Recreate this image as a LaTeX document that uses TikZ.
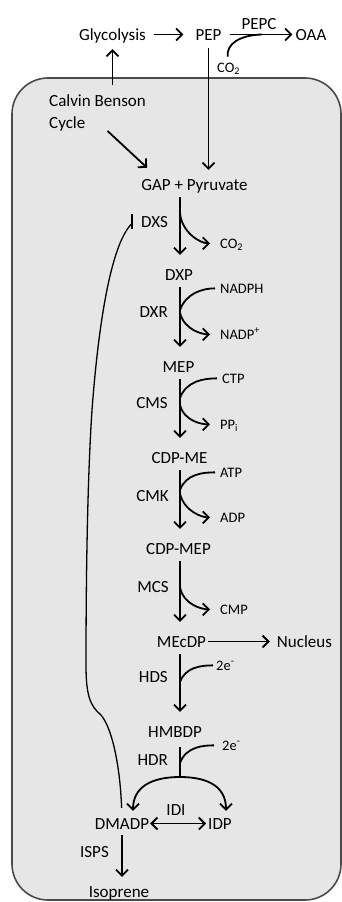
\documentclass[tikz,border=0pt]{standalone}
\usepackage{fontspec}
\setmainfont{Carlito}
\usetikzlibrary{arrows.meta}
\definecolor{cellgray}{HTML}{E6E6E6}
\definecolor{cellline}{HTML}{4A4A4A}
\begin{document}
\begin{tikzpicture}[x=1pt,y=-1pt,
  lbl/.style={inner sep=0pt, font=\fontsize{17}{20}\selectfont, text height=11pt, text depth=0pt},
  side/.style={inner sep=0pt, font=\fontsize{14.5}{17}\selectfont, text height=9.3pt, text depth=0pt, anchor=base west},
  enz/.style={lbl, anchor=base east},
  met/.style={lbl, anchor=base},
  tip/.tip={Straight Barb[length=6pt,width=12pt]},
  flow/.style={line width=1.8pt, -tip},
  feed/.style={line width=1.8pt},
  inhib/.style={line width=1.3pt},
  outbr/.style={flow, shorten >=10pt},
  inbr/.style={feed, shorten <=5pt},
]
\useasboundingbox (0,0) rectangle (342,902);

% chloroplast compartment
\draw[fill=cellgray, draw=cellline, line width=1.6pt, rounded corners=36pt]
  (12,78) rectangle (341,900);

% metabolites outside
\node[met] (glyc) at (112.5,40) {Glycolysis};
\node[met] (pep) at (208.5,40) {PEP};
\node[met] (oaa) at (311,40) {OAA};
\node[met] (pepc) at (259,29) {PEPC};
\node[side] (co2a) at (217,72) {CO\textsubscript{2}};
\node[inner sep=0pt, font=\fontsize{17}{22}\selectfont, align=left, anchor=north west]
  (calvin) at (49,94) {Calvin Benson\\Cycle};

% MEP pathway
\node[met] (gap) at (194.5,190) {GAP + Pyruvate};
\node[enz] (dxs) at (168,227) {DXS};
\node[side] (co2b) at (220,248) {CO\textsubscript{2}};
\node[met] (dxp) at (179,280) {DXP};
\node[side] (nadph) at (220,293) {NADPH};
\node[enz] (dxr) at (168,317) {DXR};
\node[side] (nadpp) at (220,339) {NADP\textsuperscript{+}};
\node[met] (mep) at (178.5,372) {MEP};
\node[side] (ctp) at (222,383) {CTP};
\node[enz] (cms) at (168,408) {CMS};
\node[side] (ppi) at (220,429) {PP\textsubscript{i}};
\node[met] (cdpme) at (179.5,463) {CDP-ME};
\node[side] (atp) at (220,477) {ATP};
\node[enz] (cmk) at (169,501) {CMK};
\node[side] (adp) at (220,522) {ADP};
\node[met] (cdpmep) at (178.5,554) {CDP-MEP};
\node[enz] (mcs) at (169,592) {MCS};
\node[side] (cmp) at (220,614) {CMP};
\node[met] (mecdp) at (181.5,647) {MEcDP};
\node[met] (nucleus) at (304.5,647) {Nucleus};
\node[enz] (hds) at (168,682) {HDS};
\node[side] (e1) at (216,670) {2e\textsuperscript{-}};
\node[met] (hmbdp) at (175,737) {HMBDP};
\node[side] (e2) at (222,750) {2e\textsuperscript{-}};
\node[enz] (hdr) at (168,765) {HDR};
\node[met] (idi) at (176,815) {IDI};
\node[met] (dmadp) at (122,829) {DMADP};
\node[met] (idp) at (220,829) {IDP};
\node[met] (isps) at (94.5,857) {ISPS};
\node[met] (iso) at (119,897) {Isoprene};

% spine and branch points
\coordinate (spine) at (180,0);
\coordinate (jdxs) at (180,213);
\coordinate (jdxrin) at (180,310);
\coordinate (jdxrout) at (180,313);
\coordinate (jcmsin) at (180,398);
\coordinate (jcmsout) at (180,405);
\coordinate (jcmkin) at (180,490);
\coordinate (jcmkout) at (180,494);
\coordinate (jmcs) at (180,587);
\coordinate (jhds) at (180,682);
\coordinate (jhdrin) at (180,763);
\coordinate (hj) at (180,777);
\coordinate (pepcj) at (262,34.5);
\coordinate (inh) at ([xshift=-9pt]dxs.west);

% upper reactions
\draw[flow, shorten <=8pt, shorten >=12pt] (glyc.east) -- (pep.west);
\draw[flow, shorten <=8pt, shorten >=3pt] (pep.east) -- (oaa.west);
\draw[feed, shorten <=6pt] (co2a.north) .. controls (226,44) and (240,35) .. (pepcj);
\draw[flow, shorten <=8pt, shorten >=9pt] (pep.south) -- (pep.south |- gap.north);
\draw[flow, shorten >=9pt] ([yshift=9pt]calvin.north -| glyc.south) -- (glyc.south);
\draw[flow] ([xshift=10pt]calvin.south) -- ([xshift=6pt,yshift=11pt]gap.north west);

% main pathway steps
\draw[flow, shorten <=7pt, shorten >=14pt] (gap.south -| spine) -- (dxp.north -| spine);
\draw[flow, shorten <=7pt, shorten >=14pt] (dxp.south -| spine) -- (mep.north -| spine);
\draw[flow, shorten <=7pt, shorten >=14pt] (mep.south -| spine) -- (cdpme.north -| spine);
\draw[flow, shorten <=7pt, shorten >=14pt] (cdpme.south -| spine) -- (cdpmep.north -| spine);
\draw[flow, shorten <=7pt, shorten >=14pt] (cdpmep.south -| spine) -- (mecdp.north -| spine);
\draw[flow, shorten <=7pt, shorten >=14pt] (mecdp.south -| spine) -- (hmbdp.north -| spine);
\draw[feed, shorten <=10pt] (hmbdp.south -| spine) -- (hj);

% side substrates and products
\draw[outbr] (jdxs) to[out=-85,in=180] (co2b.west);
\draw[inbr] (nadph.west) to[out=180,in=70] (jdxrin);
\draw[outbr] (jdxrout) to[out=-75,in=180] (nadpp.west);
\draw[inbr] (ctp.west) to[out=180,in=70] (jcmsin);
\draw[outbr] (jcmsout) to[out=-75,in=180] (ppi.west);
\draw[inbr] (atp.west) to[out=180,in=70] (jcmkin);
\draw[outbr] (jcmkout) to[out=-75,in=180] (adp.west);
\draw[outbr] (jmcs) to[out=-80,in=180] (cmp.west);
\draw[inbr, shorten <=3pt] (e1.west) to[out=180,in=70] (jhds);
\draw[inbr, shorten <=8pt] (e2.west) to[out=180,in=70] (jhdrin);

% HDR splits into both isomers
\draw[flow, shorten >=7pt] (hj) .. controls (150,777) and (133,788) .. ([xshift=11pt]dmadp.north);
\draw[flow, shorten >=7pt] (hj) .. controls (210,777) and (226,788) .. ([xshift=6pt]idp.north);
\draw[line width=1.8pt, tip-tip, shorten <=1pt, shorten >=2pt] (dmadp.east) -- (idp.west);
\draw[flow, shorten <=6pt, shorten >=9pt] (dmadp.south) -- (dmadp.south |- iso.north);
\draw[flow, shorten <=2pt, shorten >=7pt] (mecdp.east) -- (nucleus.west);

% feedback inhibition of DXS by DMADP
\draw[inhib, shorten <=10pt] (dmadp.north)
  .. controls (120,765) and (112,728) .. (101,715)
  .. controls (90,706) and (86,695) .. (86,665)
  .. controls (86,560) and (88,470) .. (92,410)
  .. controls (98,330) and (110,245) .. ([yshift=-2pt]inh);
\draw[line width=1.5pt] ([yshift=8pt]inh) -- ([yshift=-7pt]inh);
\end{tikzpicture}
\end{document}
